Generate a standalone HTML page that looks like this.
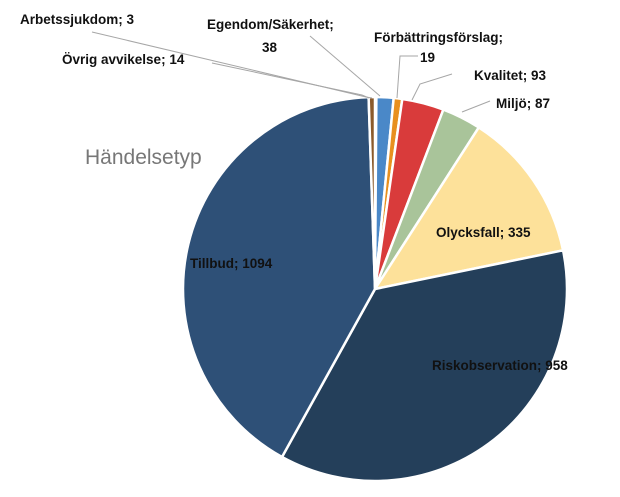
<!DOCTYPE html>
<html><head><meta charset="utf-8"><style>
body{margin:0;background:#fff;}
svg text{font-family:"Liberation Sans",sans-serif;}
.l{font-size:13.5px;font-weight:bold;fill:#111;}
</style></head><body>
<svg id="c" width="620" height="492">
<text x="85" y="164" font-size="21" fill="#777">Händelsetyp</text>
<g id="slices"></g>
<g stroke="#a6a6a6" stroke-width="1" fill="none">
<polyline points="92,32 366,97 372,98"/>
<polyline points="212,63 362,95 369,98"/>
<polyline points="310,36 380,96"/>
<polyline points="418,56 400,56 397,98"/>
<polyline points="452,74 420,84 412,100"/>
<polyline points="490,101 462,112"/>
</g>
<g id="labels">
<text class="l" x="20" y="24">Arbetssjukdom; 3</text>
<text class="l" x="62" y="64">Övrig avvikelse; 14</text>
<text class="l" x="207" y="29">Egendom/Säkerhet;</text>
<text class="l" x="262" y="52">38</text>
<text class="l" x="374" y="42">Förbättringsförslag;</text>
<text class="l" x="420" y="62">19</text>
<text class="l" x="474" y="80">Kvalitet; 93</text>
<text class="l" x="496" y="108">Miljö; 87</text>
<text class="l" x="436" y="237">Olycksfall; 335</text>
<text class="l" x="432" y="370">Riskobservation; 958</text>
<text class="l" x="190" y="268">Tillbud; 1094</text>
</g>
</svg>
<script>
const categories=["Arbetssjukdom","Egendom/Säkerhet","Förbättringsförslag","Kvalitet","Miljö","Olycksfall","Riskobservation","Tillbud","Övrig avvikelse"];
const values=[3,38,19,93,87,335,958,1094,14];
const colors=["#7f7f7f","#4a88c8","#e8901f","#d93b3b","#a9c49a","#fde19a","#243f5a","#2e5077","#8b5a2b"];
const cx=375,cy=289,r=192;
const total=values.reduce((a,b)=>a+b,0);
const g=document.getElementById('slices');
let a=0;
values.forEach((v,i)=>{
 const a0=a, a1=a+v/total*2*Math.PI; a=a1;
 const p=t=>[cx+r*Math.sin(t),cy-r*Math.cos(t)];
 const [x0,y0]=p(a0),[x1,y1]=p(a1);
 const large=(a1-a0)>Math.PI?1:0;
 const path=document.createElementNS('http://www.w3.org/2000/svg','path');
 path.setAttribute('d',`M${cx},${cy}L${x0},${y0}A${r},${r} 0 ${large} 1 ${x1},${y1}Z`);
 path.setAttribute('fill',colors[i]);
 path.setAttribute('stroke','#fff');
 path.setAttribute('stroke-width','2.5');
 
 
 g.appendChild(path);
});
</script>
</body></html>
